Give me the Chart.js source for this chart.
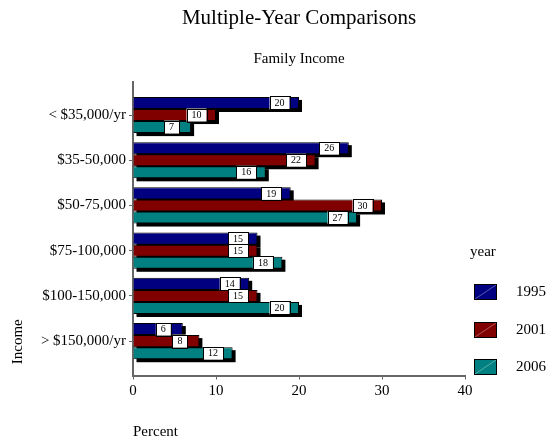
<!DOCTYPE html>
<html>
<head>
<meta charset="utf-8">
<script src="https://cdn.jsdelivr.net/npm/chart.js@4/dist/chart.umd.min.js"></script>
<style>
html, body { margin: 0; padding: 0; background: #fff; }
</style>
</head>
<body>
<canvas id="myChart" width="553" height="441"></canvas>
<script>
// data
var incomeGroups = ['< $35,000/yr', '$35-50,000', '$50-75,000', '$75-100,000', '$100-150,000', '> $150,000/yr'];
var years = ['1995', '2001', '2006'];
var pct1995 = [20, 26, 19, 15, 14, 6];
var pct2001 = [10, 22, 30, 15, 15, 8];
var pct2006 = [7, 16, 27, 18, 20, 12];
var yearColors = ['#000080', '#800000', '#008080'];

var serif = '"Liberation Serif", "DejaVu Serif", serif';
Chart.defaults.font.family = serif;
Chart.defaults.color = '#000';

var nGroups = incomeGroups.length;

// top group sits at the top of the linear index axis
function toPoints(vals) {
    return vals.map(function (v, i) { return { x: v, y: nGroups - 1 - i }; });
}

var series = [pct1995, pct2001, pct2006];
var datasets = series.map(function (vals, k) {
    return {
        label: years[k],
        data: toPoints(vals),
        backgroundColor: yearColors[k],
        borderColor: '#000',
        borderWidth: 1,
        categoryPercentage: 0.8,
        barPercentage: 1.0
    };
});

// black drop shadow under bars + white value boxes near bar ends
var barExtras = {
    id: 'barExtras',
    beforeDatasetsDraw: function (chart) {
        var ctx = chart.ctx;
        ctx.save();
        ctx.fillStyle = '#000';
        chart.data.datasets.forEach(function (ds, di) {
            chart.getDatasetMeta(di).data.forEach(function (bar) {
                var p = bar.getProps(['x', 'y', 'base', 'height'], true);
                var left = Math.min(p.base, p.x);
                ctx.fillRect(left + 3, p.y - p.height / 2 + 3, Math.abs(p.x - p.base), p.height);
            });
        });
        ctx.restore();
    },
    afterDatasetsDraw: function (chart) {
        var ctx = chart.ctx;
        ctx.save();
        ctx.font = '10px ' + serif;
        ctx.textAlign = 'center';
        ctx.textBaseline = 'middle';
        chart.data.datasets.forEach(function (ds, di) {
            chart.getDatasetMeta(di).data.forEach(function (bar, i) {
                var p = bar.getProps(['x', 'y'], true);
                var txt = String(series[di][i]);
                var w = ctx.measureText(txt).width + 10;
                var cx = p.x - 19.5;
                var h = 13;
                ctx.fillStyle = '#fff';
                ctx.fillRect(cx - w / 2, p.y - h / 2, w, h);
                ctx.strokeStyle = '#000';
                ctx.lineWidth = 1;
                ctx.strokeRect(Math.round(cx - w / 2) + 0.5, Math.round(p.y - h / 2) + 0.5, Math.round(w), h);
                ctx.fillStyle = '#000';
                ctx.fillText(txt, cx, p.y + 0.5);
            });
        });
        ctx.restore();
    }
};

// legend on the right: "year" heading and three swatches
var yearLegend = {
    id: 'yearLegend',
    afterDraw: function (chart) {
        var ctx = chart.ctx;
        ctx.save();
        ctx.font = '15px ' + serif;
        ctx.textBaseline = 'middle';
        ctx.textAlign = 'left';
        ctx.fillStyle = '#000';
        ctx.fillText('year', 470, 252);
        var rowY = [292, 330, 367];
        chart.data.datasets.forEach(function (ds, k) {
            var y = rowY[k];
            ctx.fillStyle = ds.backgroundColor;
            ctx.fillRect(474, y - 8, 23, 16);
            ctx.strokeStyle = 'rgba(255,255,255,0.35)';
            ctx.beginPath();
            ctx.moveTo(475, y + 7);
            ctx.lineTo(496, y - 7);
            ctx.stroke();
            ctx.strokeStyle = '#000';
            ctx.strokeRect(474.5, y - 7.5, 22, 15);
            ctx.fillStyle = '#000';
            ctx.fillText(ds.label, 516, y);
        });
        ctx.restore();
    }
};

var config = {
    type: 'bar',
    data: { datasets: datasets },
    options: {
        indexAxis: 'y',
        responsive: false,
        animation: false,
        layout: { padding: { left: 0, right: 88, top: 0, bottom: 0 } },
        scales: {
            x: {
                type: 'linear',
                min: 0,
                max: 40,
                ticks: { stepSize: 10, font: { size: 15 }, padding: 3, color: '#000' },
                grid: { drawOnChartArea: false, tickLength: 4, color: '#666' },
                border: { color: '#666', width: 2 },
                title: { display: true, text: 'Percent', align: 'start', font: { size: 15 }, padding: { top: 0, bottom: 0 } },
                afterFit: function (s) { s.height = 65.5; }
            },
            y: {
                type: 'linear',
                bounds: 'data',
                offset: false,
                min: -0.76,
                max: 5.73,
                ticks: {
                    autoSkip: false,
                    font: { size: 15 },
                    padding: 3,
                    color: '#000',
                    callback: function (v) {
                        var idx = nGroups - 1 - Math.round(v);
                        return incomeGroups[idx] || '';
                    }
                },
                afterBuildTicks: function (s) {
                    s.ticks = incomeGroups.map(function (g, i) { return { value: i }; });
                },
                grid: { offset: false, drawOnChartArea: false, tickLength: 4, color: '#666' },
                border: { color: '#666', width: 2 },
                title: { display: true, text: '   Income', align: 'start', font: { size: 15 }, padding: { top: 9, bottom: 0 } },
                afterFit: function (s) { s.width = 133; }
            }
        },
        plugins: {
            legend: { display: false },
            tooltip: { enabled: false },
            title: {
                display: true,
                text: 'Multiple-Year Comparisons',
                fullSize: false,
                font: { size: 21, weight: 'normal' },
                color: '#000',
                padding: { top: 6, bottom: 0 }
            },
            subtitle: {
                display: true,
                text: 'Family Income',
                fullSize: false,
                font: { size: 15, weight: 'normal' },
                color: '#000',
                padding: { top: 18.5, bottom: 14.3 }
            }
        }
    },
    plugins: [barExtras, yearLegend]
};

var myChart = new Chart(document.getElementById('myChart'), config);
</script>
</body>
</html>
